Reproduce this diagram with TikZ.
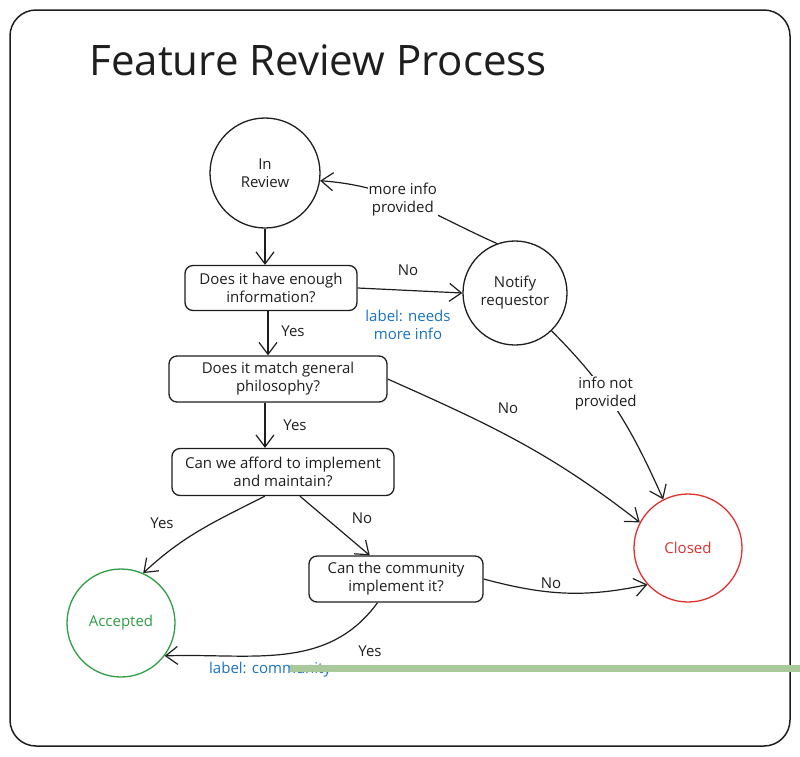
\documentclass[tikz,border=0pt]{standalone}
\usepackage{fontspec}
\setmainfont{Open Sans}
\usetikzlibrary{arrows.meta,calc}
\definecolor{ink}{HTML}{1E1E1E}
\definecolor{redc}{HTML}{E03131}
\definecolor{greenc}{HTML}{2F9E44}
\definecolor{bluec}{HTML}{1971C2}
\definecolor{glitch}{HTML}{A9C99B}
\begin{document}
\begin{tikzpicture}[x=1pt,y=1pt,
  box/.style={draw=ink, line width=1.3pt, rounded corners=8pt, align=center,
    font=\fontsize{15}{18}\selectfont, text=ink, inner sep=0pt},
  state/.style={draw=ink, circle, line width=1.3pt, inner sep=0pt, align=center,
    font=\fontsize{15}{18}\selectfont, text=ink},
  arr/.style={draw=ink, line width=1.2pt, -{Straight Barb[length=12pt,width=18pt,line width=1.2pt]}},
  lbl/.style={font=\fontsize{15}{18}\selectfont, text=ink, align=center, inner sep=1pt},
  bluelbl/.style={lbl, text=bluec}
]
\useasboundingbox (0,0) rectangle (800,-756);
\draw[ink, line width=1.5pt, rounded corners=26pt] (10,-10) rectangle (790,-746);
\node[font=\fontsize{42}{46}\selectfont, text=ink, anchor=west] (title) at (86,-60) {Feature Review Process};

% states
\node[state, minimum size=110pt] (ir) at (265,-173) {In\\Review};
\node[state, minimum size=104pt] (nt) at (515,-293) {Notify\\requestor};
\node[state, minimum size=108pt, draw=redc, text=redc] (cl) at (688,-548) {Closed};
\node[state, minimum size=108pt, draw=greenc, text=greenc] (ac) at (121,-623) {Accepted};

% decisions
\node[box, minimum width=172pt, minimum height=45pt] (b1) at (271,-288) {Does it have enough\\information?};
\node[box, minimum width=218pt, minimum height=46pt] (b2) at (278,-379) {Does it match general\\philosophy?};
\node[box, minimum width=222pt, minimum height=47pt] (b3) at (283,-472) {Can we afford to implement\\and maintain?};
\node[box, minimum width=174pt, minimum height=46pt] (b4) at (396,-579) {Can the community\\implement it?};

% connectors
\draw[arr] (ir.south) -- (ir.south |- b1.north);
\draw[arr] ($(b1.south)+(-3,0)$) coordinate (s1) -- (s1 |- b2.north);
\draw[arr] ($(b2.south)+(-13,0)$) coordinate (s2) -- (s2 |- b3.north);

\draw[arr] (b1.east) -- (nt.180);
\node[lbl] (lno1) at (408,-270) {No};
\node[bluelbl] (lneed) at (408,-325) {label: needs\\more info};

\draw[arr] (nt.110) to[out=156,in=-4]
  node[lbl, fill=white, pos=0.55] (lmore) {more info\\provided} (ir.-8);

\node[lbl] (lyes1) at (293,-331) {Yes};
\node[lbl] (lyes2) at (295,-425) {Yes};

\draw[arr] (b2.east) to[out=-24,in=142] (cl.152);
\node[lbl] (lno2) at (508,-408) {No};

\draw[arr] (nt.-46) to[out=-45,in=114]
  node[lbl, fill=white, pos=0.4] (linfo) {info not\\provided} (cl.117);

\draw[arr] (b3.-127) to[out=207,in=43] (ac.66);
\node[lbl] (lyes3) at (162,-523) {Yes};

\draw[arr] (b3.-55) -- (b4.138);
\node[lbl] (lno3) at (362,-518) {No};

\draw[arr] (b4.east) to[out=-15,in=192] (cl.222);
\node[lbl] (lno4) at (551,-583) {No};

\draw[arr] (b4.-128) to[out=234,in=2] (ac.-37);
\node[lbl] (lyes4) at (370,-651) {Yes};
\node[bluelbl, anchor=west] (lcomm) at (208,-670) {label: community};

\fill[glitch] (290,-665) rectangle (800,-672);
\end{tikzpicture}
\end{document}
